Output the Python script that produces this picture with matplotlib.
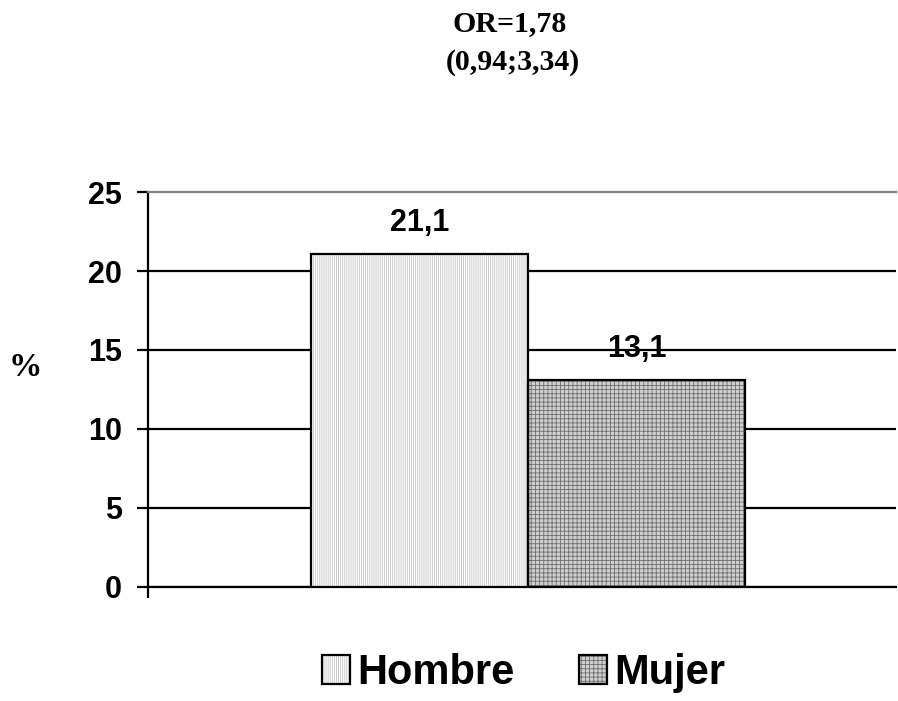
import matplotlib.pyplot as plt
from matplotlib.legend_handler import HandlerTuple

# data
groups = ['Hombre', 'Mujer']
values = [21.1, 13.1]
value_labels = ['21,1', '13,1']
positions = [-0.5, 0.5]
yticks = [0, 5, 10, 15, 20, 25]

plt.rcParams['hatch.linewidth'] = 0.6

fig = plt.figure(figsize=(8.98, 7.01), dpi=100)
ax = fig.add_axes([0.165, 0.163, 0.833, 0.563])

# hatched fills (hatch colour follows edge colour), then black outlines on top
fill_h = ax.bar(positions[0], values[0], width=1, color='white',
                edgecolor='#c4c4c4', hatch='|' * 8, linewidth=0, zorder=3)
fill_m = ax.bar(positions[1], values[1], width=1, color='#cfcfcf',
                edgecolor='#6e6e6e', hatch='+' * 4, linewidth=0, zorder=3)
outline = ax.bar(positions, values, width=1, facecolor='none',
                 edgecolor='black', linewidth=1.6, zorder=4)

for x, v, lab in zip(positions, values, value_labels):
    ax.annotate(lab, (x, v), xytext=(0, 16.5), textcoords='offset points',
                ha='center', va='baseline', fontsize=22, fontweight='bold',
                family='Liberation Sans', zorder=5)

ax.set_xlim(-1.751, 1.696)
ax.set_ylim(0, 25)
ax.set_yticks(yticks)
ax.set_yticklabels([str(t) for t in yticks], fontsize=22, fontweight='bold',
                   family='Liberation Sans')
ax.set_xticks([-1.751])
ax.set_xticklabels([''])
ax.tick_params(axis='both', direction='out', length=8, width=1.6,
               color='black', pad=11)

ax.grid(axis='y', color='black', linewidth=1.6, zorder=1)
ax.set_axisbelow(True)
ax.yaxis.get_gridlines()[-1].set_visible(False)

ax.spines['right'].set_visible(False)
ax.spines['top'].set_color('#808080')
ax.spines['top'].set_linewidth(1.6)
ax.spines['left'].set_linewidth(1.6)
ax.spines['bottom'].set_linewidth(1.6)

fig.text(0.028, 1 - 368 / 701, '%', fontsize=24, fontweight='bold',
         family='Liberation Serif', ha='center', va='center')

fig.text(0.568, 1 - 24 / 701, 'OR=1,78', fontsize=21.5, fontweight='bold',
         family='Liberation Serif', ha='center', va='center')
fig.text(0.571, 1 - 62 / 701, '(0,94;3,34)', fontsize=21.5, fontweight='bold',
         family='Liberation Serif', ha='center', va='center')

handles = [(fill_h[0], outline[0]), (fill_m[0], outline[1])]
fig.legend(handles, groups, handler_map={tuple: HandlerTuple(ndivide=1)},
           loc='center', bbox_to_anchor=(0.583, 0.04), ncol=2, frameon=False,
           prop={'family': 'Liberation Sans', 'weight': 'bold', 'size': 30},
           handlelength=0.67, handleheight=0.67, handletextpad=0.17,
           columnspacing=1.56, borderpad=0)

fig.savefig('out.png', dpi=100)
